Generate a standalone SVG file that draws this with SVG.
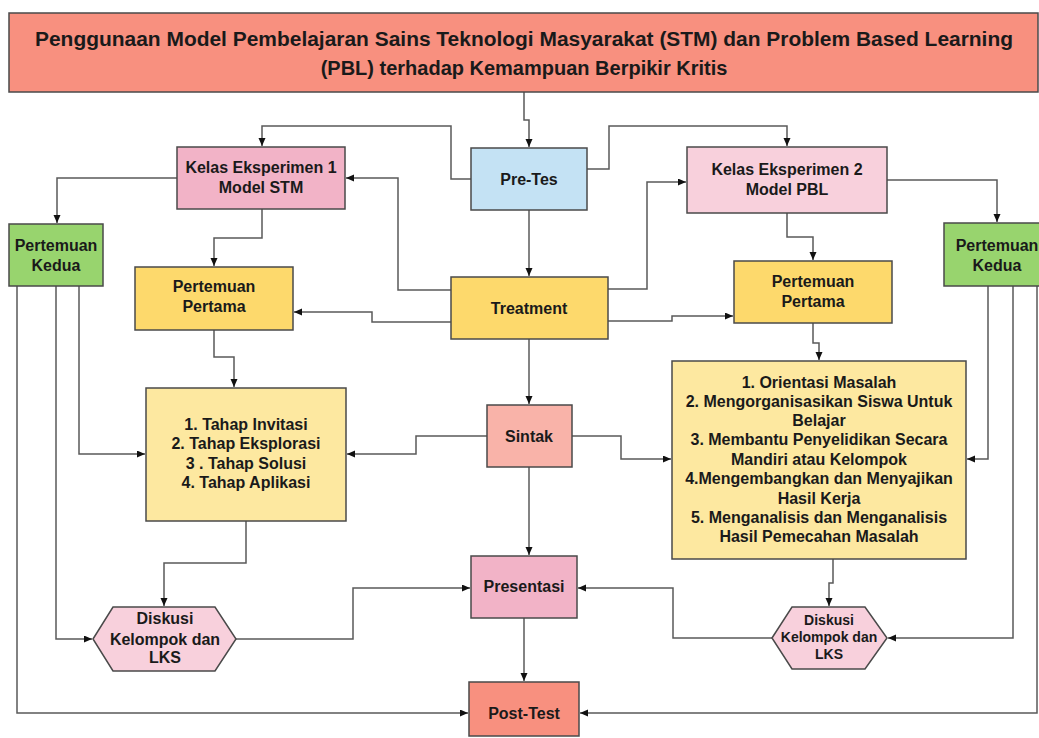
<svg xmlns="http://www.w3.org/2000/svg" width="1039" height="738" viewBox="0 0 1039 738">
<style>
.n{stroke:#4a4a4a;stroke-width:1.5}
.t{font-family:"Liberation Sans",Arial,sans-serif;font-weight:bold;font-size:16px;fill:#1a1a1a;text-anchor:middle}
.s{font-size:14px}
.c{fill:none;stroke:#5a5a5a;stroke-width:1.5;marker-end:url(#a)}
</style>
<defs>
<marker id="a" markerUnits="userSpaceOnUse" markerWidth="9" markerHeight="8" refX="8" refY="3.5" orient="auto">
<path d="M0,0 L8,3.5 L0,7 z" fill="#111"/>
</marker>
</defs>
<rect width="1039" height="738" fill="#fff"/>
<g id="connectors">
<path class="c" d="M524,92 V120 H529 V147"/>
<path class="c" d="M471,179 H451 V126 H262 V146"/>
<path class="c" d="M587,169 H609 V126 H787 V146"/>
<path class="c" d="M529,210 V276"/>
<path class="c" d="M177,178 H57 V223"/>
<path class="c" d="M262,209 V238 H214 V266"/>
<path class="c" d="M451,290 H398 V178 H346"/>
<path class="c" d="M451,322 H372 V312 H294"/>
<path class="c" d="M608,289 H647 V182 H686"/>
<path class="c" d="M608,321 H672 V316 H733"/>
<path class="c" d="M787,213 V237 H813 V260"/>
<path class="c" d="M887,180 H997 V222"/>
<path class="c" d="M214,330 V357 H234 V387"/>
<path class="c" d="M79,286 V454 H145"/>
<path class="c" d="M487,436 H416 V454 H347"/>
<path class="c" d="M529,339 V404"/>
<path class="c" d="M572,436 H621 V459 H671"/>
<path class="c" d="M988,286 V459 H967"/>
<path class="c" d="M813,323 V343 H819 V360"/>
<path class="c" d="M246,521 V563 H164 V606"/>
<path class="c" d="M56,286 V639 H92"/>
<path class="c" d="M236,639 H353 V588 H470"/>
<path class="c" d="M17,286 V713 H468"/>
<path class="c" d="M529,467 V555"/>
<path class="c" d="M833,559 V583 H829 V606"/>
<path class="c" d="M772,638 H673 V588 H578"/>
<path class="c" d="M1013,286 V638 H888"/>
<path class="c" d="M1037,286 V713 H580"/>
<path class="c" d="M524,618 V681"/>
</g>
<g id="title">
<rect class="n" x="9" y="13" width="1029" height="79" fill="#f8907f"/>
<text class="t" x="524" y="46" textLength="978" lengthAdjust="spacingAndGlyphs" style="font-size:20px">Penggunaan Model Pembelajaran Sains Teknologi Masyarakat (STM) dan Problem Based Learning</text>
<text class="t" x="524" y="75" style="font-size:20px">(PBL) terhadap Kemampuan Berpikir Kritis</text>
</g>
<g id="pretes">
<rect class="n" x="471" y="148" width="116" height="62" fill="#c4e2f4"/>
<text class="t" x="529" y="185">Pre-Tes</text>
</g>
<g id="kelas1">
<rect class="n" x="177" y="147" width="168" height="62" fill="#f2b3c7"/>
<text class="t" x="261" y="173">Kelas Eksperimen 1</text>
<text class="t" x="261" y="193">Model STM</text>
</g>
<g id="kelas2">
<rect class="n" x="687" y="147" width="200" height="66" fill="#f8d0dc"/>
<text class="t" x="787" y="175">Kelas Eksperimen 2</text>
<text class="t" x="787" y="195">Model PBL</text>
</g>
<g id="pk1">
<rect class="n" x="9" y="224" width="94" height="62" fill="#98d46e"/>
<text class="t" x="56" y="251">Pertemuan</text>
<text class="t" x="56" y="271">Kedua</text>
</g>
<g id="pk2">
<rect class="n" x="944" y="223" width="110" height="63" fill="#98d46e"/>
<text class="t" x="997" y="251">Pertemuan</text>
<text class="t" x="997" y="271">Kedua</text>
</g>
<g id="pp1">
<rect class="n" x="135" y="267" width="158" height="63" fill="#fdd96c"/>
<text class="t" x="214" y="292">Pertemuan</text>
<text class="t" x="214" y="312">Pertama</text>
</g>
<g id="treatment">
<rect class="n" x="451" y="277" width="157" height="62" fill="#fdd96c"/>
<text class="t" x="529" y="314">Treatment</text>
</g>
<g id="pp2">
<rect class="n" x="734" y="261" width="158" height="62" fill="#fdd96c"/>
<text class="t" x="813" y="287">Pertemuan</text>
<text class="t" x="813" y="307">Pertama</text>
</g>
<g id="tahap">
<rect class="n" x="146" y="388" width="200" height="133" fill="#fde8a0"/>
<text class="t" x="246" y="430">1. Tahap Invitasi</text>
<text class="t" x="246" y="449">2. Tahap Eksplorasi</text>
<text class="t" x="246" y="469">3 . Tahap Solusi</text>
<text class="t" x="246" y="488">4. Tahap Aplikasi</text>
</g>
<g id="sintak">
<rect class="n" x="487" y="405" width="85" height="62" fill="#f9b3a9"/>
<text class="t" x="529" y="442">Sintak</text>
</g>
<g id="orientasi">
<rect class="n" x="672" y="361" width="294" height="198" fill="#fde8a0"/>
<text class="t" x="819" y="388">1. Orientasi Masalah</text>
<text class="t" x="819" y="407">2. Mengorganisasikan Siswa Untuk</text>
<text class="t" x="819" y="426">Belajar</text>
<text class="t" x="819" y="445">3. Membantu Penyelidikan Secara</text>
<text class="t" x="819" y="465">Mandiri atau Kelompok</text>
<text class="t" x="819" y="484">4.Mengembangkan dan Menyajikan</text>
<text class="t" x="819" y="504">Hasil Kerja</text>
<text class="t" x="819" y="523">5. Menganalisis dan Menganalisis</text>
<text class="t" x="819" y="542">Hasil Pemecahan Masalah</text>
</g>
<g id="diskusi1">
<polygon class="n" points="93,639 113,607 215,607 236,639 215,671 113,671" fill="#f8d0dc"/>
<text class="t" x="165" y="624">Diskusi</text>
<text class="t" x="165" y="645">Kelompok dan</text>
<text class="t" x="165" y="663">LKS</text>
</g>
<g id="presentasi">
<rect class="n" x="471" y="556" width="106" height="62" fill="#f2b3c7"/>
<text class="t" x="524" y="592">Presentasi</text>
</g>
<g id="diskusi2">
<polygon class="n" points="772,638 792,607 865,607 887,638 865,669 792,669" fill="#f8d0dc"/>
<text class="t s" x="829" y="625">Diskusi</text>
<text class="t s" x="829" y="642">Kelompok dan</text>
<text class="t s" x="829" y="659">LKS</text>
</g>
<g id="posttest">
<rect class="n" x="469" y="682" width="110" height="54" fill="#f8907f"/>
<text class="t" x="524" y="719">Post-Test</text>
</g>
</svg>
